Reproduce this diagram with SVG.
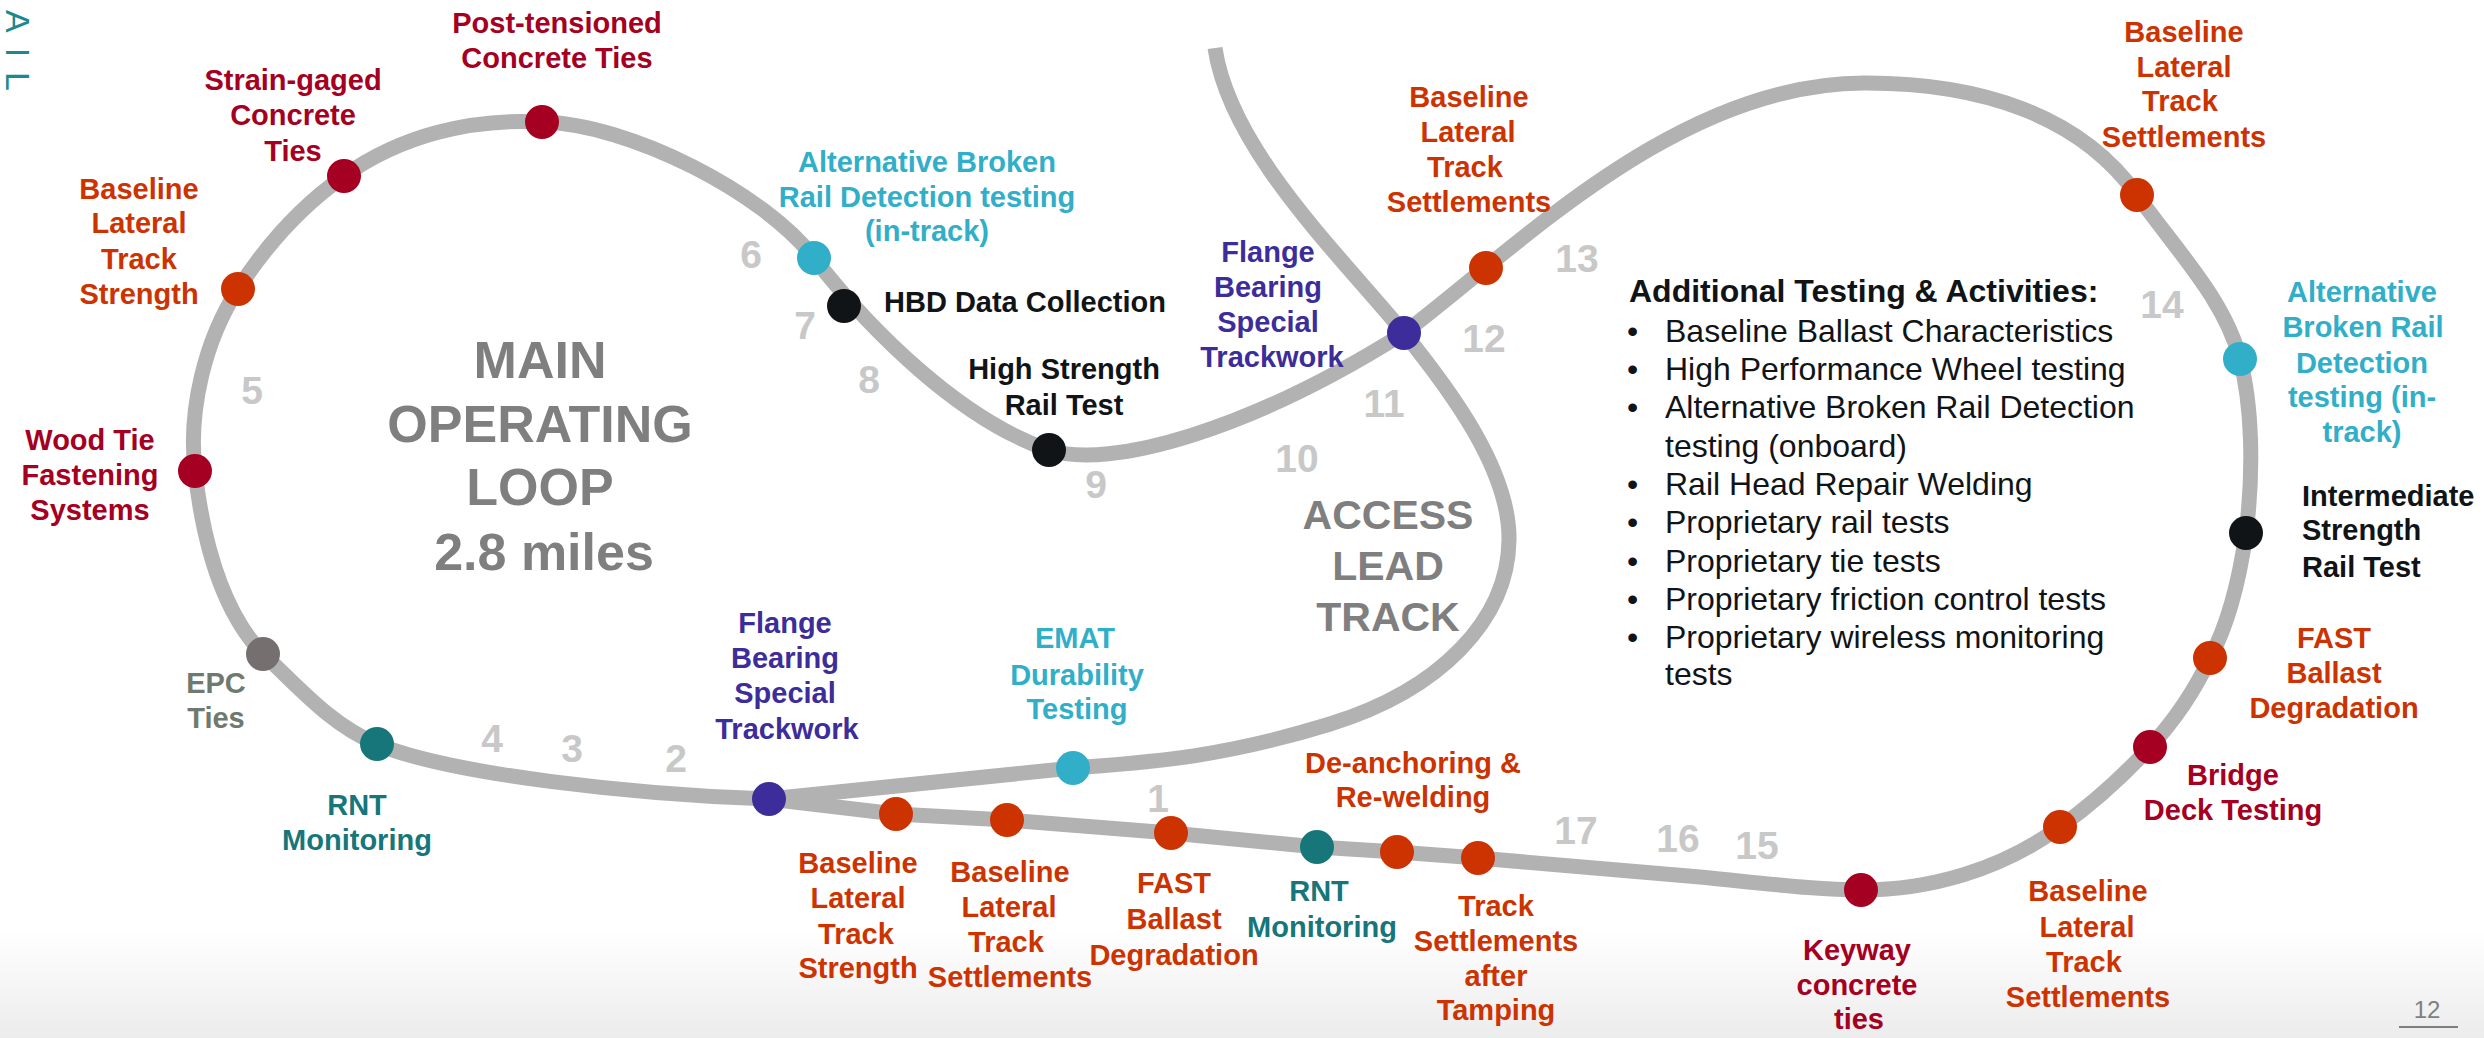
<svg xmlns="http://www.w3.org/2000/svg" width="2484" height="1038" viewBox="0 0 2484 1038">
<defs>
<linearGradient id="bg" x1="0" y1="0" x2="0" y2="1"><stop offset="0" stop-color="#ffffff"/><stop offset="1" stop-color="#ececec"/></linearGradient>
<style>
.track{fill:none;stroke:#b2b2b2;stroke-width:15;stroke-linejoin:round}
.lbl{font-family:"Liberation Sans",Arial,sans-serif;font-weight:bold;font-size:29px;text-anchor:middle}
.st{text-anchor:start}
.num{font-family:"Liberation Sans",Arial,sans-serif;font-weight:bold;font-size:39px;fill:#c8c8c8;text-anchor:middle}
.big{font-family:"Liberation Sans",Arial,sans-serif;font-weight:bold;fill:#7f7f7f;text-anchor:middle}
.list{font-family:"Liberation Sans",Arial,sans-serif;font-size:32px;fill:#111417}
.or{fill:#cc3300}.cr{fill:#a50021}.pu{fill:#3c2d9b}.cy{fill:#31aec8}.te{fill:#17767a}.bk{fill:#111417}.ep{fill:#6e7a6f}.gd{fill:#75706f}
</style>
</defs>
<rect x="0" y="0" width="2484" height="1038" fill="#ffffff"/>
<rect x="0" y="930" width="2484" height="108" fill="url(#bg)"/>
<text transform="translate(6,10) rotate(90)" font-family="Liberation Sans,Arial,sans-serif" font-size="34" letter-spacing="15" fill="#1b8a8f">AIL</text>

<g id="connectors">
<path class="track" d="M 769,799 C 640,795 450,775 377,744 C 330,725 295,683 263,654 C 230,620 205,560 195,471 C 188,410 205,340 238,289 C 265,247 300,207 344,176 C 400,136 470,118 542,122 C 630,124 764,193 814,258 C 870,330 960,420 1049,450 C 1110,470 1250,430 1404,333 C 1520,245 1680,82 1866,83 C 1980,83 2080,115 2137,195 C 2177,251 2225,300 2240,359 C 2252,405 2254,470 2246,533 C 2238,590 2225,630 2210,658 C 2195,690 2175,720 2150,747 C 2125,774 2095,802 2060,827 C 2000,870 1930,890 1861,890 C 1820,890 1780,885 1700,877 L 1478,858 L 1397,852 L 1317,847 L 1171,833 L 1007,820 L 896,814 Z"/>
<path class="track" d="M 1215,48 C 1230,150 1340,255 1404,333 C 1450,390 1510,470 1509,540 C 1508,620 1440,690 1330,724 C 1220,758 1150,762 1073,768 L 769,799"/>
</g>

<g id="section-numbers">
<text class="num" x="1158" y="812">1</text>
<text class="num" x="676" y="772">2</text>
<text class="num" x="572" y="762">3</text>
<text class="num" x="492" y="752">4</text>
<text class="num" x="252" y="404">5</text>
<text class="num" x="751" y="268">6</text>
<text class="num" x="805" y="339">7</text>
<text class="num" x="869" y="393">8</text>
<text class="num" x="1096" y="498">9</text>
<text class="num" x="1297" y="472">10</text>
<text class="num" x="1384" y="417">11</text>
<text class="num" x="1484" y="352">12</text>
<text class="num" x="1577" y="272">13</text>
<text class="num" x="2162" y="318">14</text>
<text class="num" x="1757" y="859">15</text>
<text class="num" x="1678" y="852">16</text>
<text class="num" x="1576" y="844">17</text>
</g>

<g id="main-loop-title">
<text class="big" font-size="52"><tspan x="540" y="378">MAIN</tspan><tspan x="540" y="442">OPERATING</tspan><tspan x="540" y="505">LOOP</tspan><tspan x="544" y="570">2.8 miles</tspan></text>
</g>
<g id="access-lead-title">
<text class="big" font-size="41"><tspan x="1388" y="529">ACCESS</tspan><tspan x="1388" y="580">LEAD</tspan><tspan x="1388" y="631">TRACK</tspan></text>
</g>

<g id="n-post-tensioned"><circle class="cr" cx="542" cy="122" r="17"/><text class="lbl cr"><tspan x="557" y="33">Post-tensioned</tspan><tspan x="557" y="68">Concrete Ties</tspan></text></g>
<g id="n-strain-gaged"><circle class="cr" cx="344" cy="176" r="17"/><text class="lbl cr"><tspan x="293" y="90">Strain-gaged</tspan><tspan x="293" y="125">Concrete</tspan><tspan x="293" y="161">Ties</tspan></text></g>
<g id="n-baseline-strength-left"><circle class="or" cx="238" cy="289" r="17"/><text class="lbl or"><tspan x="139" y="199">Baseline</tspan><tspan x="139" y="233">Lateral</tspan><tspan x="139" y="269">Track</tspan><tspan x="139" y="304">Strength</tspan></text></g>
<g id="n-wood-tie"><circle class="cr" cx="195" cy="471" r="17"/><text class="lbl cr"><tspan x="90" y="450">Wood Tie</tspan><tspan x="90" y="485">Fastening</tspan><tspan x="90" y="520">Systems</tspan></text></g>
<g id="n-epc"><circle class="gd" cx="263" cy="654" r="17"/><text class="lbl ep"><tspan x="216" y="693">EPC</tspan><tspan x="216" y="728">Ties</tspan></text></g>
<g id="n-rnt-left"><circle class="te" cx="377" cy="744" r="17"/><text class="lbl te"><tspan x="357" y="815">RNT</tspan><tspan x="357" y="850">Monitoring</tspan></text></g>
<g id="n-flange-bottom"><circle class="pu" cx="769" cy="799" r="17"/><text class="lbl pu"><tspan x="785" y="633">Flange</tspan><tspan x="785" y="668">Bearing</tspan><tspan x="785" y="703">Special</tspan><tspan x="787" y="739">Trackwork</tspan></text></g>
<g id="n-emat"><circle class="cy" cx="1073" cy="768" r="17"/><text class="lbl cy"><tspan x="1075" y="648">EMAT</tspan><tspan x="1077" y="685">Durability</tspan><tspan x="1077" y="719">Testing</tspan></text></g>
<g id="n-baseline-strength-bottom"><circle class="or" cx="896" cy="814" r="17"/><text class="lbl or"><tspan x="858" y="873">Baseline</tspan><tspan x="858" y="908">Lateral</tspan><tspan x="856" y="944">Track</tspan><tspan x="858" y="978">Strength</tspan></text></g>
<g id="n-baseline-settle-bottom"><circle class="or" cx="1007" cy="820" r="17"/><text class="lbl or"><tspan x="1010" y="882">Baseline</tspan><tspan x="1009" y="917">Lateral</tspan><tspan x="1006" y="952">Track</tspan><tspan x="1010" y="987">Settlements</tspan></text></g>
<g id="n-fast-bottom"><circle class="or" cx="1171" cy="833" r="17"/><text class="lbl or"><tspan x="1174" y="893">FAST</tspan><tspan x="1174" y="929">Ballast</tspan><tspan x="1174" y="965">Degradation</tspan></text></g>
<g id="n-rnt-bottom"><circle class="te" cx="1317" cy="847" r="17"/><text class="lbl te"><tspan x="1319" y="901">RNT</tspan><tspan x="1322" y="937">Monitoring</tspan></text></g>
<g id="n-deanchoring"><circle class="or" cx="1397" cy="852" r="17"/><text class="lbl or"><tspan x="1413" y="773">De-anchoring &amp;</tspan><tspan x="1413" y="807">Re-welding</tspan></text></g>
<g id="n-track-settle-tamping"><circle class="or" cx="1478" cy="858" r="17"/><text class="lbl or"><tspan x="1496" y="916">Track</tspan><tspan x="1496" y="951">Settlements</tspan><tspan x="1496" y="986">after</tspan><tspan x="1496" y="1020">Tamping</tspan></text></g>
<g id="n-keyway"><circle class="cr" cx="1861" cy="890" r="17"/><text class="lbl cr"><tspan x="1857" y="960">Keyway</tspan><tspan x="1857" y="995">concrete</tspan><tspan x="1859" y="1029">ties</tspan></text></g>
<g id="n-baseline-settle-br"><circle class="or" cx="2060" cy="827" r="17"/><text class="lbl or"><tspan x="2088" y="901">Baseline</tspan><tspan x="2087" y="937">Lateral</tspan><tspan x="2084" y="972">Track</tspan><tspan x="2088" y="1007">Settlements</tspan></text></g>
<g id="n-bridge"><circle class="cr" cx="2150" cy="747" r="17"/><text class="lbl cr"><tspan x="2233" y="785">Bridge</tspan><tspan x="2233" y="820">Deck Testing</tspan></text></g>
<g id="n-fast-right"><circle class="or" cx="2210" cy="658" r="17"/><text class="lbl or"><tspan x="2334" y="648">FAST</tspan><tspan x="2334" y="683">Ballast</tspan><tspan x="2334" y="718">Degradation</tspan></text></g>
<g id="n-intermediate"><circle class="bk" cx="2246" cy="533" r="17"/><text class="lbl bk st"><tspan x="2302" y="506">Intermediate</tspan><tspan x="2302" y="540">Strength</tspan><tspan x="2302" y="577">Rail Test</tspan></text></g>
<g id="n-abrd-right"><circle class="cy" cx="2240" cy="359" r="17"/><text class="lbl cy"><tspan x="2362" y="302">Alternative</tspan><tspan x="2363" y="337">Broken Rail</tspan><tspan x="2362" y="373">Detection</tspan><tspan x="2362" y="407">testing (in-</tspan><tspan x="2362" y="442">track)</tspan></text></g>
<g id="n-baseline-settle-tr"><circle class="or" cx="2137" cy="195" r="17"/><text class="lbl or"><tspan x="2184" y="42">Baseline</tspan><tspan x="2184" y="77">Lateral</tspan><tspan x="2180" y="111">Track</tspan><tspan x="2184" y="147">Settlements</tspan></text></g>
<g id="n-baseline-settle-mid"><circle class="or" cx="1486" cy="268" r="17"/><text class="lbl or"><tspan x="1469" y="107">Baseline</tspan><tspan x="1468" y="142">Lateral</tspan><tspan x="1465" y="177">Track</tspan><tspan x="1469" y="212">Settlements</tspan></text></g>
<g id="n-flange-cross"><circle class="pu" cx="1404" cy="333" r="17"/><text class="lbl pu"><tspan x="1268" y="262">Flange</tspan><tspan x="1268" y="297">Bearing</tspan><tspan x="1268" y="332">Special</tspan><tspan x="1272" y="367">Trackwork</tspan></text></g>
<g id="n-high-strength"><circle class="bk" cx="1049" cy="450" r="17"/><text class="lbl bk"><tspan x="1064" y="379">High Strength</tspan><tspan x="1064" y="415">Rail Test</tspan></text></g>
<g id="n-hbd"><circle class="bk" cx="844" cy="306" r="17"/><text class="lbl bk st" x="884" y="312">HBD Data Collection</text></g>
<g id="n-abrd-left"><circle class="cy" cx="814" cy="258" r="17"/><text class="lbl cy"><tspan x="927" y="172">Alternative Broken</tspan><tspan x="927" y="207">Rail Detection testing</tspan><tspan x="927" y="241">(in-track)</tspan></text></g>

<g id="additional-testing">
<text class="list" font-weight="bold" x="1629" y="302">Additional Testing &amp; Activities:</text>
<text class="list"><tspan x="1627" y="342">•</tspan><tspan x="1665" y="342">Baseline Ballast Characteristics</tspan>
<tspan x="1627" y="380">•</tspan><tspan x="1665" y="380">High Performance Wheel testing</tspan>
<tspan x="1627" y="418">•</tspan><tspan x="1665" y="418">Alternative Broken Rail Detection</tspan>
<tspan x="1665" y="457">testing (onboard)</tspan>
<tspan x="1627" y="495">•</tspan><tspan x="1665" y="495">Rail Head Repair Welding</tspan>
<tspan x="1627" y="533">•</tspan><tspan x="1665" y="533">Proprietary rail tests</tspan>
<tspan x="1627" y="572">•</tspan><tspan x="1665" y="572">Proprietary tie tests</tspan>
<tspan x="1627" y="610">•</tspan><tspan x="1665" y="610">Proprietary friction control tests</tspan>
<tspan x="1627" y="648">•</tspan><tspan x="1665" y="648">Proprietary wireless monitoring</tspan>
<tspan x="1665" y="685">tests</tspan></text>
</g>

<g id="page-number">
<text x="2427" y="1018" font-family="Liberation Sans,Arial,sans-serif" font-size="24" fill="#7f7f7f" text-anchor="middle">12</text>
<line x1="2399" y1="1027" x2="2458" y2="1027" stroke="#7f7f7f" stroke-width="2"/>
</g>
</svg>
